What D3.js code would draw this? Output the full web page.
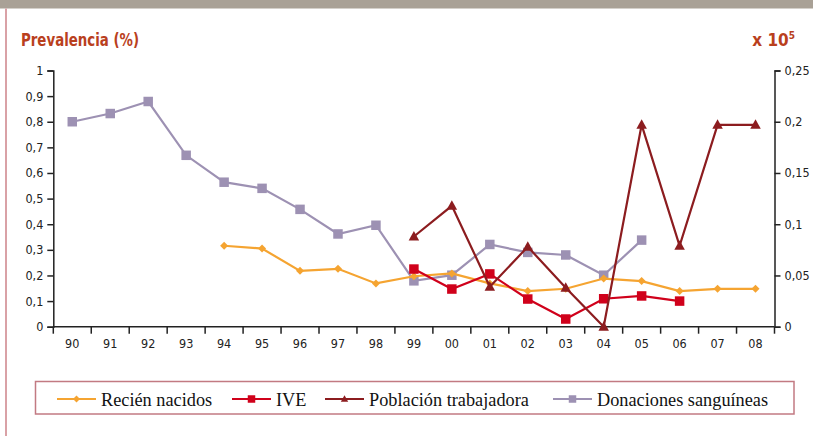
<!DOCTYPE html>
<html>
<head>
<meta charset="utf-8">
<script src="https://cdn.jsdelivr.net/npm/d3@7"></script>
<style>
body { margin: 0; background: #fff; }
svg { display: block; }
.tick text { font-family: "DejaVu Sans", sans-serif; font-stretch: condensed; font-size: 12.5px; fill: #222; }
</style>
</head>
<body>
<div id="chart"></div>
<script>
// years on the x axis
var years = ["90", "91", "92", "93", "94", "95", "96", "97", "98", "99",
    "00", "01", "02", "03", "04", "05", "06", "07", "08"];

// left axis (%)
var recienNacidos = [null, null, null, null, 0.316, 0.305, 0.218, 0.226, 0.169, 0.197,
    0.208, 0.169, 0.139, 0.148, 0.188, 0.178, 0.139, 0.148, 0.148];
var ive = [null, null, null, null, null, null, null, null, null, 0.225,
    0.147, 0.206, 0.108, 0.03, 0.109, 0.12, 0.10, null, null];
var donaciones = [0.80, 0.832, 0.879, 0.669, 0.564, 0.54, 0.458, 0.362, 0.396, 0.179,
    0.201, 0.321, 0.29, 0.28, 0.201, 0.338, null, null, null];

// right axis (x 10^5)
var poblacion = [null, null, null, null, null, null, null, null, null, 0.088,
    0.118, 0.039, 0.078, 0.038, 0, 0.197, 0.079, 0.197, 0.197];

var leftTicks = [0, 0.1, 0.2, 0.3, 0.4, 0.5, 0.6, 0.7, 0.8, 0.9, 1];
var rightTicks = [0, 0.05, 0.1, 0.15, 0.2, 0.25];

var series = [
    { name: "Recién nacidos", values: recienNacidos, color: "#f5a431", marker: "diamond", axis: "left" },
    { name: "IVE", values: ive, color: "#d0011b", marker: "square", axis: "left" },
    { name: "Población trabajadora", values: poblacion, color: "#8c1c1f", marker: "triangle", axis: "right" },
    { name: "Donaciones sanguíneas", values: donaciones, color: "#9d91b3", marker: "square", axis: "left" }
];

var W = 813, H = 436;
var svg = d3.select("#chart").append("svg").attr("width", W).attr("height", H);

// frame: grey strip on top and pink rule on the left
svg.append("rect").attr("x", 0).attr("y", 0).attr("width", W).attr("height", 8.5).attr("fill", "#a9a196");
svg.append("line").attr("x1", 6).attr("x2", 6).attr("y1", 8.5).attr("y2", H)
    .attr("stroke", "#d9a1a6").attr("stroke-width", 2);

var fmt = function (d) { return String(d).replace(".", ","); };

var x = d3.scaleBand().domain(years).range([53.3, 774.5]);
var yL = d3.scaleLinear().domain([0, 1]).range([326.7, 70.5]);
var yR = d3.scaleLinear().domain([0, 0.25]).range([326.7, 70.5]);

// x axis: ticks at band edges
var gx = svg.append("g").attr("transform", "translate(0,326.7)");
gx.append("line").attr("x1", 53.3).attr("x2", 774.5).attr("stroke", "#222").attr("stroke-width", 1.5);
gx.selectAll("line.t").data(years.concat(["end"])).join("line")
    .attr("class", "t")
    .attr("x1", (d, i) => i < years.length ? x(d) : x.range()[1])
    .attr("x2", (d, i) => i < years.length ? x(d) : x.range()[1])
    .attr("y1", 0).attr("y2", 7)
    .attr("stroke", "#222").attr("stroke-width", 1.5);
gx.selectAll("text").data(years).join("text")
    .attr("x", d => x(d) + x.bandwidth() / 2)
    .attr("y", 21.5)
    .attr("text-anchor", "middle")
    .style("font-family", "DejaVu Sans, sans-serif")
    .style("font-stretch", "condensed")
    .style("font-size", "12.5px")
    .attr("fill", "#222")
    .text(d => d);

var gl = svg.append("g").attr("transform", "translate(53.3,0)")
    .call(d3.axisLeft(yL).tickValues(leftTicks).tickFormat(fmt).tickSize(6).tickPadding(4));
var gr = svg.append("g").attr("transform", "translate(774.5,0)")
    .call(d3.axisRight(yR).tickValues(rightTicks).tickFormat(fmt).tickSize(6).tickPadding(4));
[gl, gr].forEach(function (g) {
    g.select(".domain").attr("stroke", "#222").attr("stroke-width", 1.5);
    g.selectAll(".tick line").attr("stroke", "#222").attr("stroke-width", 1.5);
});

// titles
svg.append("text").attr("x", 21).attr("y", 46)
    .style("font-family", "DejaVu Sans, sans-serif").style("font-stretch", "condensed")
    .style("font-weight", "bold").style("font-size", "17px").attr("fill", "#b9401d")
    .attr("textLength", 118).attr("lengthAdjust", "spacingAndGlyphs")
    .text("Prevalencia (%)");
var t5 = svg.append("text").attr("x", 795).attr("y", 46).attr("text-anchor", "end")
    .style("font-family", "DejaVu Sans, sans-serif").style("font-stretch", "condensed")
    .style("font-weight", "bold").style("font-size", "17px").attr("fill", "#b9401d");
t5.append("tspan").text("x 10");
t5.append("tspan").attr("dy", -7).style("font-size", "10px").text("5");

function markerPath(type, size) {
    var s = size / 2;
    if (type === "square") return `M${-s},${-s}h${size}v${size}h${-size}Z`;
    if (type === "diamond") return `M0,${-s}L${s},0L0,${s}L${-s},0Z`;
    return `M0,${-s * 1.1}L${s * 1.05},${s * 0.8}L${-s * 1.05},${s * 0.8}Z`;
}
var markerSize = { square: 9.5, diamond: 8, triangle: 10 };

// draw series (purple first so the others sit on top)
var order = [3, 0, 1, 2];
order.forEach(function (k) {
    var s = series[k];
    var y = s.axis === "left" ? yL : yR;
    var pts = years.map((yr, i) => ({ yr: yr, v: s.values[i] })).filter(d => d.v !== null);
    var line = d3.line().x(d => x(d.yr) + x.bandwidth() / 2).y(d => y(d.v));
    svg.append("path").datum(pts).attr("d", line)
        .attr("fill", "none").attr("stroke", s.color).attr("stroke-width", 2.2)
        .attr("stroke-linejoin", "miter");
    svg.selectAll(null).data(pts).join("path")
        .attr("transform", d => `translate(${x(d.yr) + x.bandwidth() / 2},${y(d.v)})`)
        .attr("d", markerPath(s.marker, markerSize[s.marker]))
        .attr("fill", s.color);
});

// legend
svg.append("rect").attr("x", 35.5).attr("y", 381.5).attr("width", 758.5).attr("height", 32.5)
    .attr("fill", "none").attr("stroke", "#c27a82").attr("stroke-width", 1.5);
var legendX = [57, 232, 325, 553];
series.forEach(function (s, i) {
    var g = svg.append("g").attr("transform", `translate(${legendX[i]},399)`);
    g.append("line").attr("x1", 0).attr("x2", 39).attr("stroke", s.color).attr("stroke-width", 2);
    g.append("path").attr("transform", "translate(19.5,0)")
        .attr("d", markerPath(s.marker, s.marker === "square" ? 7.5 : 7)).attr("fill", s.color);
    g.append("text").attr("x", 44).attr("y", 6.5)
        .style("font-family", "Liberation Serif, serif").style("font-size", "18.3px")
        .attr("fill", "#111").text(s.name);
});
</script>
</body>
</html>
